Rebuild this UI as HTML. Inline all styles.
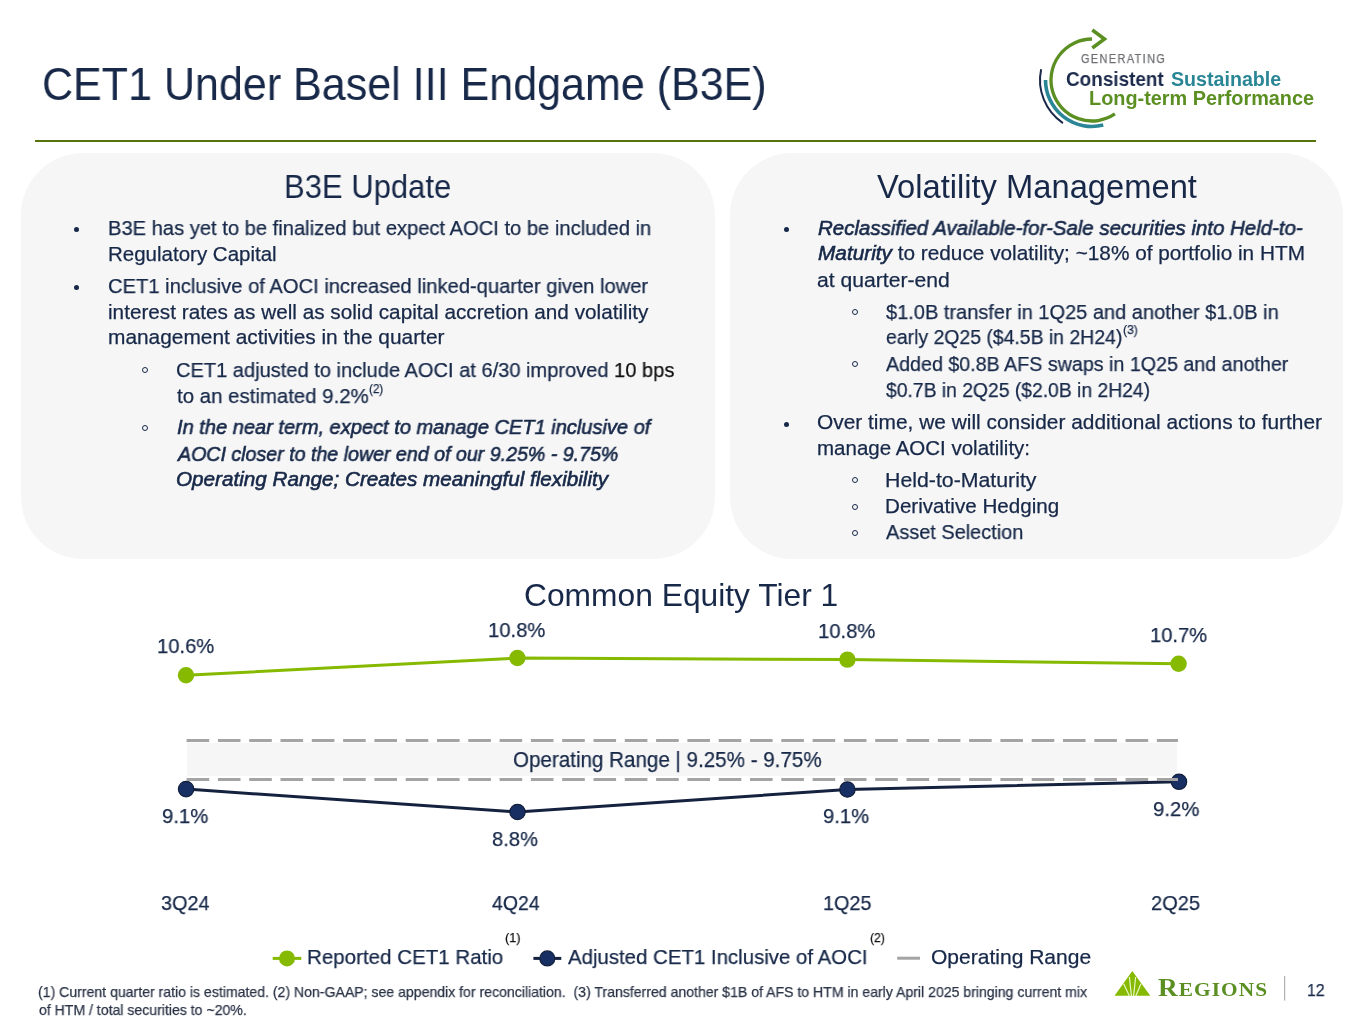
<!DOCTYPE html><html><head><meta charset="utf-8"><title>CET1 Under Basel III Endgame</title><style>
*{margin:0;padding:0;box-sizing:border-box}
html,body{width:1365px;height:1024px;overflow:hidden;background:#fff}
body{position:relative;font-family:"Liberation Sans",sans-serif;color:#172848}
.t{position:absolute;white-space:nowrap;transform-origin:0 0;will-change:transform;-webkit-text-stroke:0.25px currentColor}
.h{-webkit-text-stroke:0}
.bi{font-weight:normal;font-style:italic;-webkit-text-stroke:0.6px currentColor}
.blk{color:#111}
.fn{color:#2b3447}
.gen{color:#6d6e71;letter-spacing:1.5px}
.cons{color:#1b2a4a}
.sus{color:#2a8595}
.ltp{color:#5b8f22}
.reg{font-family:"Liberation Serif",serif;font-weight:bold;color:#5b8f22;letter-spacing:1px}
.reg .sc{font-size:0.78em}
</style></head><body>
<div style="position:absolute;left:34.5px;top:140.2px;width:1281px;height:2px;background:#56730e"></div>
<div style="position:absolute;left:21px;top:153px;width:694px;height:406px;border-radius:62px;background:#f6f6f6"></div>
<div style="position:absolute;left:730px;top:153px;width:613px;height:406px;border-radius:62px;background:#f6f6f6"></div>
<svg style="position:absolute;left:0;top:0" width="1365" height="1024" viewBox="0 0 1365 1024"><rect x="187" y="742.7" width="990" height="33.3" fill="#f6f6f6"/>
<polyline points="186,675.3 517.4,658 847.4,659.6 1178.6,663.8" fill="none" stroke="#86ba00" stroke-width="3"/>
<polyline points="186.1,789.1 517.5,812 847.4,789.5 1179,781.8" fill="none" stroke="#15223f" stroke-width="3"/>
<circle cx="186" cy="675.3" r="8.2" fill="#86ba00"/>
<circle cx="517.4" cy="658" r="8.2" fill="#86ba00"/>
<circle cx="847.4" cy="659.6" r="8.2" fill="#86ba00"/>
<circle cx="1178.6" cy="663.8" r="8.2" fill="#86ba00"/>
<circle cx="186.1" cy="789.1" r="7.7" fill="#172f62" stroke="#13203c" stroke-width="1.2"/>
<circle cx="517.5" cy="812" r="7.7" fill="#172f62" stroke="#13203c" stroke-width="1.2"/>
<circle cx="847.4" cy="789.5" r="7.7" fill="#172f62" stroke="#13203c" stroke-width="1.2"/>
<circle cx="1179" cy="781.8" r="7.7" fill="#172f62" stroke="#13203c" stroke-width="1.2"/>
<line x1="186.6" y1="740.4" x2="1178" y2="740.4" stroke="#a4a4a4" stroke-width="3" stroke-dasharray="22.6 8.7"/>
<line x1="186.6" y1="779.4" x2="1178" y2="779.4" stroke="#a4a4a4" stroke-width="3" stroke-dasharray="22.6 8.7"/>
<line x1="272.7" y1="958.4" x2="301.3" y2="958.4" stroke="#86ba00" stroke-width="3"/>
<circle cx="287" cy="958.4" r="8" fill="#86ba00"/>
<line x1="533.4" y1="958.4" x2="561.3" y2="958.4" stroke="#15223f" stroke-width="3"/>
<circle cx="547.3" cy="958.4" r="7.5" fill="#172f62" stroke="#13203c" stroke-width="1.2"/>
<line x1="897.2" y1="958.2" x2="920" y2="958.2" stroke="#a4a4a4" stroke-width="3"/>
<path d="M1092.00 39.00 A41 41 0 1 0 1114.93 113.99" fill="none" stroke="#5b8f22" stroke-width="3.3"/>
<path d="M1092.3 30 L1104.5 39 L1092.3 48" fill="none" stroke="#5b8f22" stroke-width="3.5"/>
<path d="M1045.50 80.00 A46.5 46.5 0 0 0 1103.25 125.12" fill="none" stroke="#2a8595" stroke-width="3.6"/>
<path d="M1041.14 69.19 A52 52 0 0 0 1062.92 123.11" fill="none" stroke="#1b2a4a" stroke-width="2"/>
<polygon points="1132.3,971 1114.5,995.8 1150.3,995.8" fill="#86ba00"/>
<line x1="1129.4" y1="996" x2="1123.7" y2="983.7" stroke="#eaf7c8" stroke-width="1.2"/>
<line x1="1131.4" y1="996" x2="1129.4" y2="977" stroke="#eaf7c8" stroke-width="1.2"/>
<line x1="1133.6" y1="996" x2="1135.6" y2="977" stroke="#eaf7c8" stroke-width="1.2"/>
<line x1="1135.8" y1="996" x2="1141" y2="983.7" stroke="#eaf7c8" stroke-width="1.2"/>
<line x1="1284.6" y1="976" x2="1284.6" y2="1000.4" stroke="#b0b0b0" stroke-width="1.2"/></svg>
<div style="position:absolute;left:74.20px;top:226.90px;width:5px;height:5px;border-radius:50%;background:#172848"></div>
<div style="position:absolute;left:74.20px;top:285.00px;width:5px;height:5px;border-radius:50%;background:#172848"></div>
<div style="position:absolute;left:142.40px;top:367.20px;width:6px;height:6px;border-radius:50%;border:1px solid #172848"></div>
<div style="position:absolute;left:142.40px;top:425.00px;width:6px;height:6px;border-radius:50%;border:1px solid #172848"></div>
<div style="position:absolute;left:783.50px;top:226.80px;width:5px;height:5px;border-radius:50%;background:#172848"></div>
<div style="position:absolute;left:783.50px;top:421.50px;width:5px;height:5px;border-radius:50%;background:#172848"></div>
<div style="position:absolute;left:851.80px;top:308.80px;width:6px;height:6px;border-radius:50%;border:1px solid #172848"></div>
<div style="position:absolute;left:851.80px;top:361.30px;width:6px;height:6px;border-radius:50%;border:1px solid #172848"></div>
<div style="position:absolute;left:851.80px;top:477.00px;width:6px;height:6px;border-radius:50%;border:1px solid #172848"></div>
<div style="position:absolute;left:851.80px;top:503.50px;width:6px;height:6px;border-radius:50%;border:1px solid #172848"></div>
<div style="position:absolute;left:851.80px;top:530.00px;width:6px;height:6px;border-radius:50%;border:1px solid #172848"></div>
<div class="t h" style="left:42.15px;top:54.68px;font-size:46.50px;line-height:58px;transform:scaleX(0.9254);">CET1 Under Basel III Endgame (B3E)</div>
<div class="t h" style="left:284.49px;top:166.53px;font-size:32.50px;line-height:41px;transform:scaleX(0.9541);">B3E Update</div>
<div class="t h" style="left:877.00px;top:166.73px;font-size:32.50px;line-height:41px;transform:scaleX(1.0063);">Volatility Management</div>
<div class="t " style="left:108.02px;top:215.29px;font-size:20.50px;line-height:26px;transform:scaleX(0.9828);">B3E has yet to be finalized but expect AOCI to be included in</div>
<div class="t " style="left:108.00px;top:240.89px;font-size:20.50px;line-height:26px;">Regulatory Capital</div>
<div class="t " style="left:108.02px;top:272.89px;font-size:20.50px;line-height:26px;transform:scaleX(0.9836);">CET1 inclusive of AOCI increased linked-quarter given lower</div>
<div class="t " style="left:107.99px;top:298.69px;font-size:20.50px;line-height:26px;transform:scaleX(1.0112);">interest rates as well as solid capital accretion and volatility</div>
<div class="t " style="left:107.98px;top:324.39px;font-size:20.50px;line-height:26px;transform:scaleX(1.0182);">management activities in the quarter</div>
<div class="t " style="left:175.82px;top:357.39px;font-size:20.50px;line-height:26px;transform:scaleX(0.9783);">CET1 adjusted to include AOCI at 6/30 improved <span class="blk">10 bps</span></div>
<div class="t " style="left:176.80px;top:383.29px;font-size:20.50px;line-height:26px;transform:scaleX(0.9958);">to an estimated 9.2%</div>
<div class="t " style="left:176.80px;top:414.49px;font-size:20.50px;line-height:26px;transform:scaleX(0.9776);"><i class="bi">In the near term, expect to manage CET1 inclusive of</i></div>
<div class="t " style="left:177.76px;top:440.89px;font-size:20.50px;line-height:26px;transform:scaleX(0.9566);"><i class="bi">AOCI closer to the lower end of our 9.25% - 9.75%</i></div>
<div class="t " style="left:175.79px;top:466.19px;font-size:20.50px;line-height:26px;transform:scaleX(1.0086);"><i class="bi">Operating Range; Creates meaningful flexibility</i></div>
<div class="t " style="left:818.00px;top:214.69px;font-size:20.50px;line-height:26px;transform:scaleX(0.9971);"><i class="bi">Reclassified Available-for-Sale securities into Held-to-</i></div>
<div class="t " style="left:818.00px;top:240.39px;font-size:20.50px;line-height:26px;transform:scaleX(1.0140);"><i class="bi">Maturity</i> to reduce volatility; ~18% of portfolio in HTM</div>
<div class="t " style="left:816.97px;top:266.89px;font-size:20.50px;line-height:26px;transform:scaleX(1.0315);">at quarter-end</div>
<div class="t " style="left:886.00px;top:298.69px;font-size:20.50px;line-height:26px;transform:scaleX(0.9761);">$1.0B transfer in 1Q25 and another $1.0B in</div>
<div class="t " style="left:886.00px;top:324.39px;font-size:20.50px;line-height:26px;transform:scaleX(0.9470);">early 2Q25 ($4.5B in 2H24)</div>
<div class="t " style="left:886.00px;top:351.29px;font-size:20.50px;line-height:26px;transform:scaleX(0.9594);">Added $0.8B AFS swaps in 1Q25 and another</div>
<div class="t " style="left:886.00px;top:377.19px;font-size:20.50px;line-height:26px;transform:scaleX(0.9419);">$0.7B in 2Q25 ($2.0B in 2H24)</div>
<div class="t " style="left:816.98px;top:409.49px;font-size:20.50px;line-height:26px;transform:scaleX(1.0190);">Over time, we will consider additional actions to further</div>
<div class="t " style="left:817.00px;top:434.89px;font-size:20.50px;line-height:26px;">manage AOCI volatility:</div>
<div class="t " style="left:884.96px;top:466.69px;font-size:20.50px;line-height:26px;transform:scaleX(1.0386);">Held-to-Maturity</div>
<div class="t " style="left:884.99px;top:492.89px;font-size:20.50px;line-height:26px;transform:scaleX(1.0058);">Derivative Hedging</div>
<div class="t " style="left:886.00px;top:519.39px;font-size:20.50px;line-height:26px;transform:scaleX(0.9714);">Asset Selection</div>
<div class="t " style="left:369.00px;top:381.17px;font-size:12.50px;line-height:16px;transform:scaleX(0.9333);">(2)</div>
<div class="t " style="left:1122.50px;top:322.17px;font-size:12.50px;line-height:16px;transform:scaleX(0.9667);">(3)</div>
<div class="t h" style="left:524.36px;top:576.43px;font-size:30.50px;line-height:38px;transform:scaleX(1.0415);">Common Equity Tier 1</div>
<div class="t " style="left:157.24px;top:633.47px;font-size:21.00px;line-height:26px;transform:scaleX(0.9621);">10.6%</div>
<div class="t " style="left:488.14px;top:616.72px;font-size:21.00px;line-height:26px;transform:scaleX(0.9638);">10.8%</div>
<div class="t " style="left:818.14px;top:618.02px;font-size:21.00px;line-height:26px;transform:scaleX(0.9638);">10.8%</div>
<div class="t " style="left:1149.54px;top:622.22px;font-size:21.00px;line-height:26px;transform:scaleX(0.9603);">10.7%</div>
<div class="t " style="left:162.03px;top:803.47px;font-size:21.00px;line-height:26px;transform:scaleX(0.9660);">9.1%</div>
<div class="t " style="left:492.04px;top:825.72px;font-size:21.00px;line-height:26px;transform:scaleX(0.9596);">8.8%</div>
<div class="t " style="left:823.24px;top:803.42px;font-size:21.00px;line-height:26px;transform:scaleX(0.9617);">9.1%</div>
<div class="t " style="left:1153.23px;top:796.12px;font-size:21.00px;line-height:26px;transform:scaleX(0.9681);">9.2%</div>
<div class="t " style="left:513.46px;top:745.54px;font-size:21.80px;line-height:27px;transform:scaleX(0.9443);">Operating Range | 9.25% - 9.75%</div>
<div class="t " style="left:160.76px;top:889.62px;font-size:21.00px;line-height:26px;transform:scaleX(0.9440);">3Q24</div>
<div class="t " style="left:491.70px;top:889.62px;font-size:21.00px;line-height:26px;transform:scaleX(0.9275);">4Q24</div>
<div class="t " style="left:822.76px;top:889.62px;font-size:21.00px;line-height:26px;transform:scaleX(0.9420);">1Q25</div>
<div class="t " style="left:1151.35px;top:889.62px;font-size:21.00px;line-height:26px;transform:scaleX(0.9540);">2Q25</div>
<div class="t " style="left:307.42px;top:943.82px;font-size:21.00px;line-height:26px;transform:scaleX(0.9774);">Reported CET1 Ratio</div>
<div class="t " style="left:567.90px;top:943.82px;font-size:21.00px;line-height:26px;transform:scaleX(0.9720);">Adjusted CET1 Inclusive of AOCI</div>
<div class="t " style="left:931.40px;top:943.82px;font-size:21.00px;line-height:26px;transform:scaleX(1.0013);">Operating Range</div>
<div class="t blk" style="left:504.60px;top:929.99px;font-size:13.00px;line-height:16px;transform:scaleX(0.9800);">(1)</div>
<div class="t blk" style="left:870.20px;top:929.99px;font-size:13.00px;line-height:16px;transform:scaleX(0.9400);">(2)</div>
<div class="t fn" style="left:37.73px;top:983.17px;font-size:14.50px;line-height:18px;transform:scaleX(0.9714);">(1) Current quarter ratio is estimated. (2) Non-GAAP; see appendix for reconciliation.&nbsp; (3) Transferred another $1B of AFS to HTM in early April 2025 bringing current mix</div>
<div class="t fn" style="left:38.70px;top:1001.07px;font-size:14.50px;line-height:18px;transform:scaleX(0.9709);">of HTM / total securities to ~20%.</div>
<div class="t gen" style="left:1081.00px;top:52.34px;font-size:12.00px;line-height:15px;transform:scaleX(0.9121);">GENERATING</div>
<div class="t cons h" style="left:1066.03px;top:67.24px;font-size:19.50px;line-height:24px;transform:scaleX(0.9700);"><b>Consistent</b></div>
<div class="t sus h" style="left:1170.99px;top:67.24px;font-size:19.50px;line-height:24px;transform:scaleX(1.0065);"><b>Sustainable</b></div>
<div class="t ltp h" style="left:1088.98px;top:86.14px;font-size:19.50px;line-height:24px;transform:scaleX(1.0183);"><b>Long-term Performance</b></div>
<div class="t " style="left:1306.57px;top:979.61px;font-size:17.00px;line-height:21px;transform:scaleX(0.9278);">12</div>
<div class="t reg h" style="left:1158.00px;top:971.86px;font-size:25.50px;line-height:32px;transform:scaleX(1.0713);">R<span class="sc">EGIONS</span></div>
</body></html>
